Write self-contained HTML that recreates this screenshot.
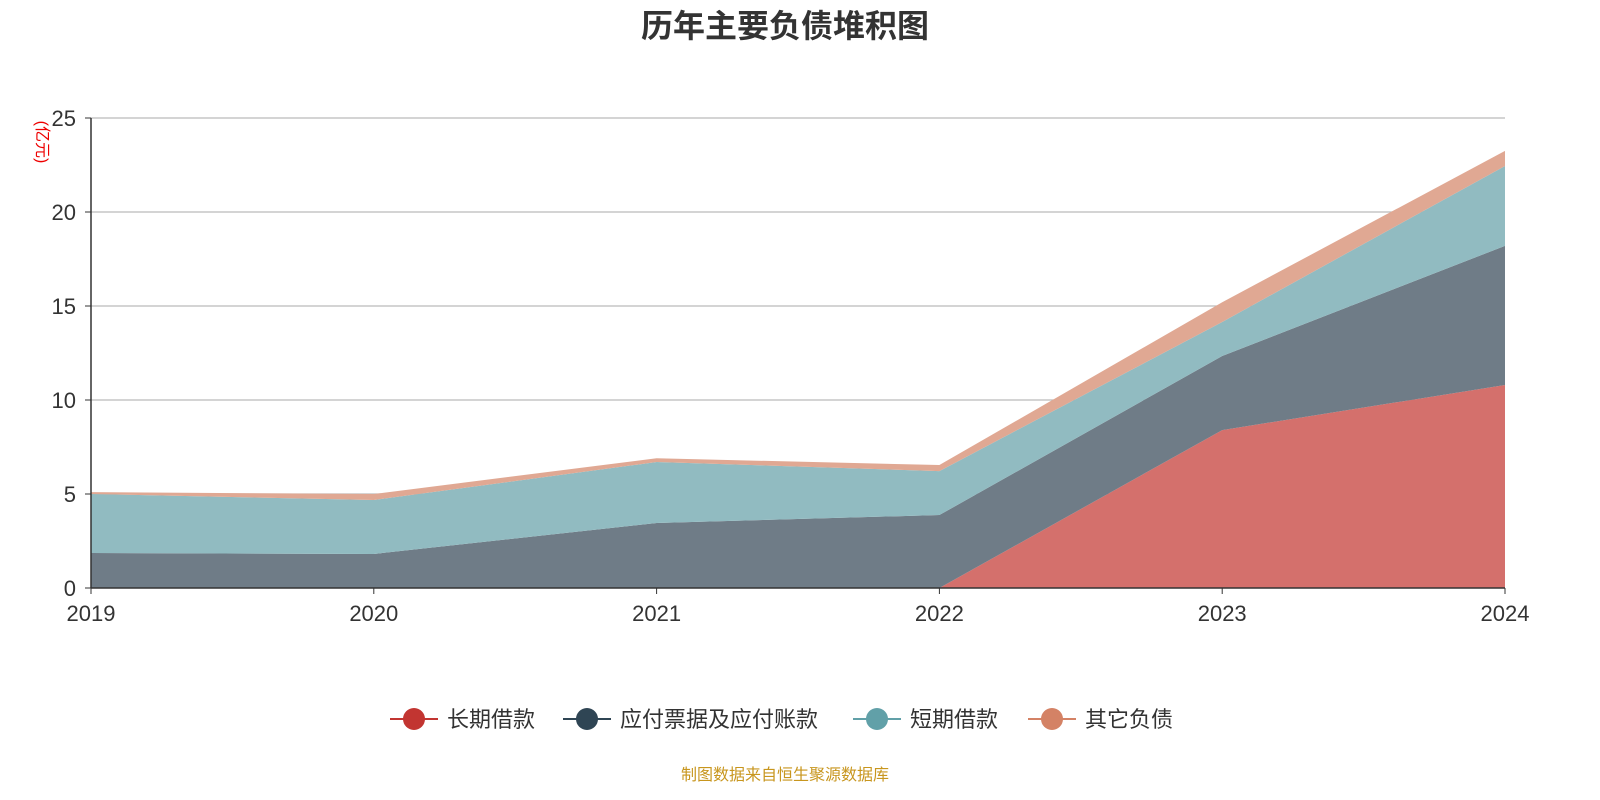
<!DOCTYPE html>
<html><head><meta charset="utf-8"><style>
body{margin:0;background:#fff;font-family:"Liberation Sans","Noto Sans CJK SC",sans-serif}
</style></head><body>
<svg width="1600" height="800" style="display:block">
<text x="785" y="37" text-anchor="middle" font-size="32" font-weight="bold" fill="#333" font-family="Liberation Sans,Noto Sans CJK SC,sans-serif">历年主要负债堆积图</text>
<text transform="translate(37,142) rotate(90)" text-anchor="middle" font-size="16" fill="#e00" font-family="Liberation Sans,Noto Sans CJK SC,sans-serif">(亿元)</text>
<g id="grid"></g><g id="areas"></g><g id="axes"></g><g id="legend"></g>
<text x="785" y="780" text-anchor="middle" font-size="16" fill="#c8961e" font-family="Liberation Sans,Noto Sans CJK SC,sans-serif">制图数据来自恒生聚源数据库</text>
</svg>
<script>
const years=["2019","2020","2021","2022","2023","2024"];
const longLoan=[0,0,0,0,8.4,10.8];
const payable=[1.86,1.81,3.46,3.88,3.94,7.4];
const shortLoan=[3.14,2.87,3.24,2.34,1.81,4.25];
const other=[0.1,0.32,0.2,0.32,1.05,0.8];
const yTicks=[0,5,10,15,20,25];
const seriesNames=["长期借款","应付票据及应付账款","短期借款","其它负债"];
const NS="http://www.w3.org/2000/svg";
const x0=91,x1=1505,yb=588,yt=118,ymax=25;
const X=i=>x0+(x1-x0)*i/(years.length-1);
const Y=v=>yb-(yb-yt)*v/ymax;
function mk(t,a,p){const e=document.createElementNS(NS,t);for(const k in a)e.setAttribute(k,a[k]);p.appendChild(e);return e;}
const grid=document.getElementById('grid'),areas=document.getElementById('areas'),axes=document.getElementById('axes'),legend=document.getElementById('legend');
yTicks.forEach(v=>{
 if(v>0){const l=mk('line',{x1:x0,x2:x1,y1:Y(v),y2:Y(v),stroke:'#bbb','stroke-width':1.2},grid);
 
 }
 const t=mk('text',{x:76,y:Y(v)+8,'text-anchor':'end','font-size':22,fill:'#333'},axes);t.textContent=v;
 
 
 mk('line',{x1:x0-6,x2:x0,y1:Y(v),y2:Y(v),stroke:'#333'},axes);
});
const series=[longLoan,payable,shortLoan,other];
const fills=["#d4706c","#6f7c87","#91bbc1","#e0a893"];
const colors=["#c23531","#2f4554","#61a0a8","#d48265"];
let base=years.map(()=>0);
series.forEach((s,k)=>{
 const top=base.map((b,i)=>b+s[i]);
 let d='M'+top.map((v,i)=>X(i)+','+Y(v)).join('L');
 for(let i=years.length-1;i>=0;i--)d+='L'+X(i)+','+Y(base[i]);
 const p=mk('path',{d:d+'Z',fill:fills[k]},areas);
 
 
 base=top;
});
mk('line',{x1:x0,x2:x0,y1:yt,y2:yb,stroke:'#333','stroke-width':1.5},axes);
mk('line',{x1:x0,x2:x1,y1:yb,y2:yb,stroke:'#333','stroke-width':1.5},axes);
years.forEach((y,i)=>{
 mk('line',{x1:X(i),x2:X(i),y1:yb,y2:yb+6,stroke:'#333'},axes);
 const t=mk('text',{x:X(i),y:621,'text-anchor':'middle','font-size':22,fill:'#333'},axes);t.textContent=y;
 
 
});
const lx=[390,563,853,1028],tw=[0,0,0,0];
seriesNames.forEach((n,k)=>{
 const g=mk('g',{},legend);
 
 
 mk('line',{x1:lx[k],x2:lx[k]+48,y1:719,y2:719,stroke:colors[k],'stroke-width':2},g);
 mk('circle',{cx:lx[k]+24,cy:719,r:11,fill:colors[k]},g);
 const t=mk('text',{x:lx[k]+57,y:727,'font-size':22,fill:'#333'},g);t.textContent=n;
});
</script>
</body></html>
